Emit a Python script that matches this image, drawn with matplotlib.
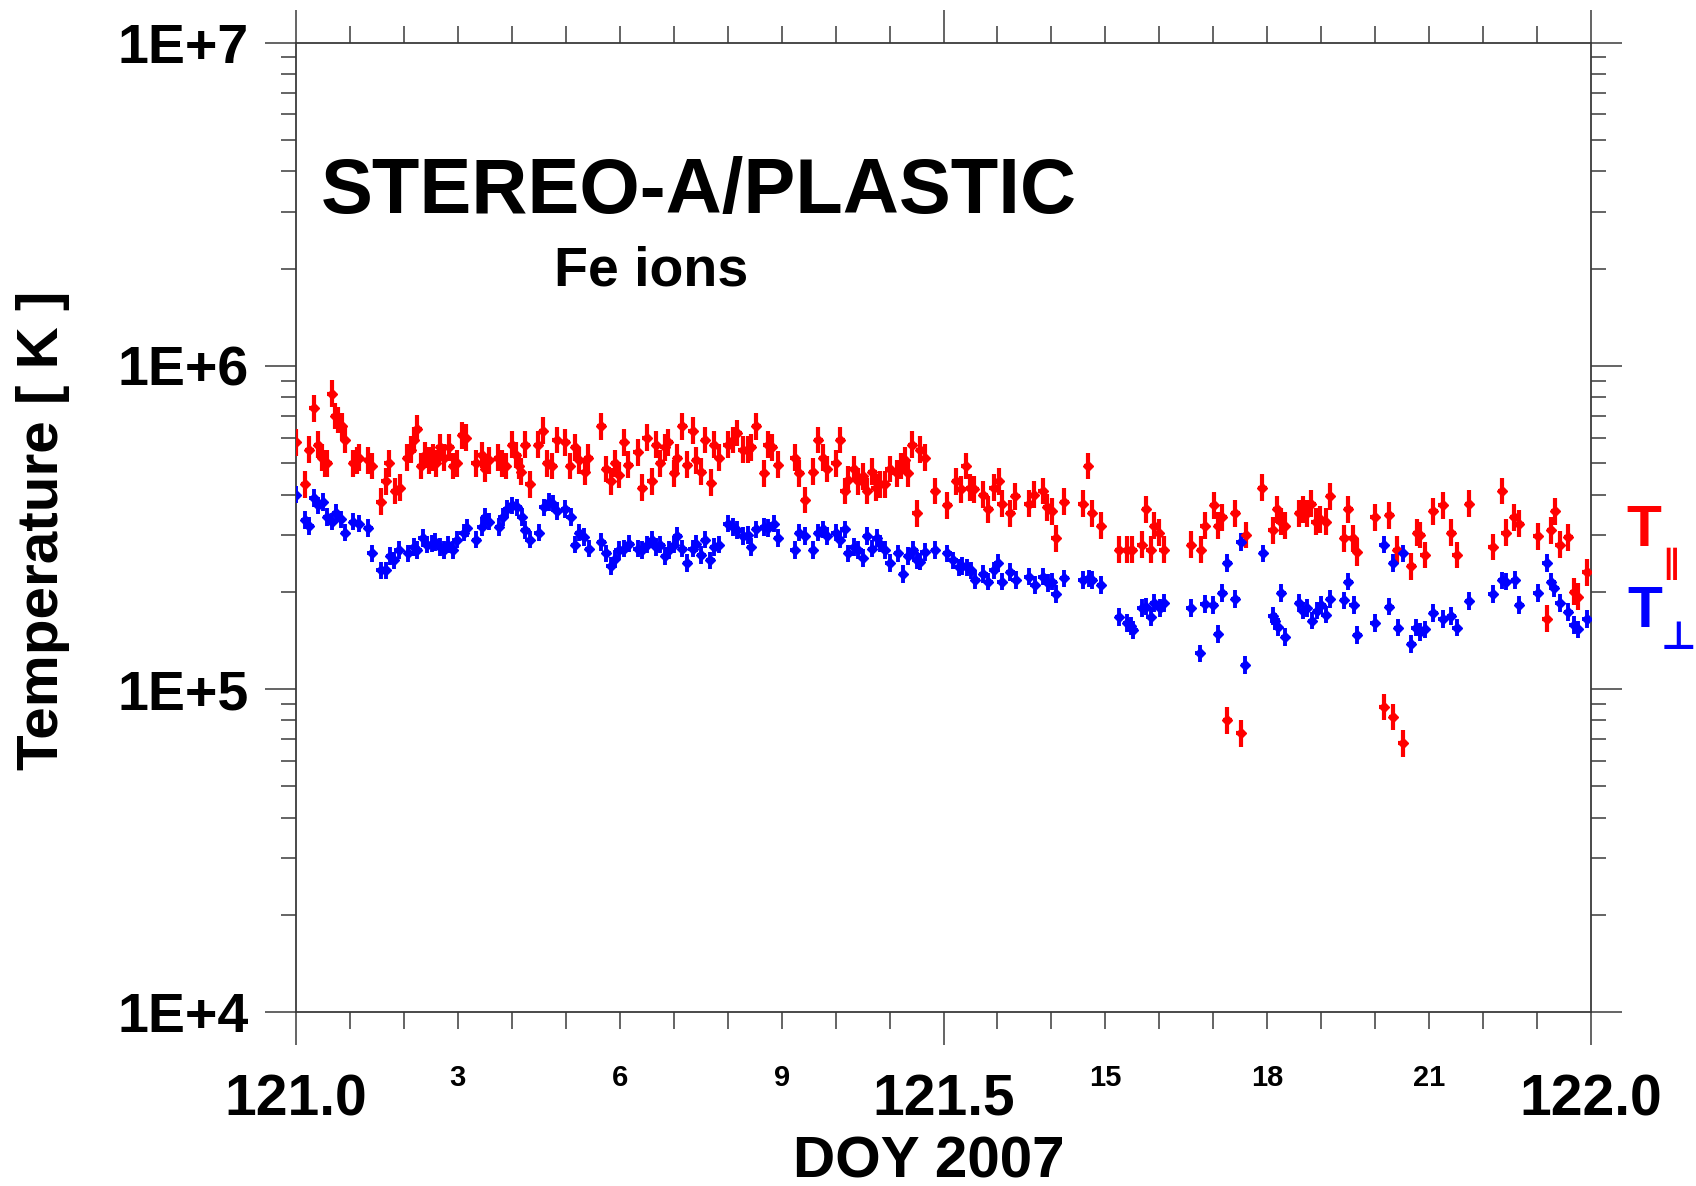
import matplotlib
matplotlib.use("Agg")
import matplotlib.pyplot as plt
from matplotlib.ticker import FixedLocator, FuncFormatter, LogLocator, NullFormatter
import numpy as np

plt.rcParams["font.family"] = ["Liberation Sans", "DejaVu Sans"]
plt.rcParams["font.weight"] = "bold"

# Fe ion temperatures, DOY 121 2007 (hours of day, units of 1E+5 K)
par_hours = [0.00, 0.17, 0.25, 0.33, 0.41, 0.48, 0.54, 0.58, 0.66, 0.72, 0.78, 0.85, 0.91,
             1.06, 1.13, 1.17, 1.34, 1.40, 1.57, 1.66, 1.72, 1.84, 1.92, 2.06, 2.13, 2.19,
             2.25, 2.32, 2.39, 2.47, 2.54, 2.60, 2.67, 2.74, 2.84, 2.91, 2.98, 3.08, 3.15,
             3.33, 3.44, 3.50, 3.58, 3.75, 3.82, 3.89, 4.01, 4.08, 4.13, 4.17, 4.25, 4.33,
             4.49, 4.58, 4.66, 4.75, 4.83, 4.99, 5.08, 5.17, 5.25, 5.35, 5.42, 5.66, 5.75,
             5.83, 5.91, 5.98, 6.08, 6.16, 6.33, 6.42, 6.50, 6.59, 6.67, 6.75, 6.83, 6.90,
             7.01, 7.07, 7.16, 7.25, 7.35, 7.41, 7.51, 7.58, 7.69, 7.75, 7.84, 8.00, 8.09,
             8.18, 8.28, 8.37, 8.44, 8.53, 8.67, 8.74, 8.83, 8.93, 9.24, 9.33, 9.43, 9.58,
             9.68, 9.77, 9.84, 10.00, 10.09, 10.17, 10.23, 10.34, 10.42, 10.51, 10.58, 10.68,
             10.74, 10.83, 10.91, 11.00, 11.13, 11.22, 11.28, 11.34, 11.42, 11.50, 11.57,
             11.65, 11.84, 12.07, 12.24, 12.33, 12.41, 12.49, 12.57, 12.74, 12.83, 12.93,
             13.02, 13.08, 13.24, 13.33, 13.58, 13.67, 13.84, 13.92, 14.01, 14.08, 14.24,
             14.58, 14.68, 14.75, 14.92, 15.25, 15.41, 15.50, 15.67, 15.75, 15.84, 15.91,
             15.99, 16.08, 16.59, 16.77, 16.84, 17.01, 17.09, 17.17, 17.26, 17.41, 17.51,
             17.60, 17.91, 18.10, 18.18, 18.25, 18.32, 18.59, 18.67, 18.74, 18.82, 18.90,
             18.98, 19.08, 19.16, 19.42, 19.50, 19.58, 19.66, 19.99, 20.16, 20.26, 20.33,
             20.41, 20.51, 20.67, 20.78, 20.84, 20.92, 21.08, 21.25, 21.41, 21.51, 21.74,
             22.18, 22.35, 22.42, 22.58, 22.67, 23.01, 23.18, 23.26, 23.33, 23.42, 23.58,
             23.69, 23.76, 23.92]
par_temp = [5.8, 4.3, 5.5, 7.4, 5.7, 5.2, 5.0, 5.0, 8.2, 7.0, 6.8, 6.5, 5.9,
            5.0, 5.1, 5.2, 5.1, 4.9, 3.8, 4.4, 5.0, 4.1, 4.2, 5.2, 5.5, 5.9,
            6.4, 4.9, 5.3, 5.1, 5.2, 5.0, 5.6, 5.2, 5.6, 4.9, 5.0, 6.1, 6.0,
            5.0, 5.3, 4.8, 5.1, 5.2, 5.0, 4.9, 5.7, 5.3, 4.9, 4.7, 5.7, 4.3,
            5.7, 6.3, 5.0, 4.9, 5.9, 5.8, 4.9, 5.6, 5.1, 4.7, 5.2, 6.5, 4.8,
            4.4, 5.0, 4.6, 5.8, 4.95, 5.4, 4.2, 6.0, 4.4, 5.7, 5.0, 5.6, 5.8,
            4.65, 5.2, 6.5, 4.95, 6.3, 5.1, 4.7, 5.9, 4.35, 5.7, 5.2, 5.7, 5.9,
            6.2, 5.5, 5.5, 5.6, 6.5, 4.65, 5.7, 5.6, 4.95, 5.2, 4.65, 3.85, 4.7,
            5.9, 5.2, 4.8, 5.0, 5.9, 4.1, 4.45, 4.8, 4.4, 4.55, 4.1, 4.7,
            4.2, 4.3, 4.3, 4.8, 4.65, 4.9, 5.1, 4.65, 5.7, 3.5, 5.5,
            5.2, 4.1, 3.7, 4.4, 4.15, 4.9, 4.2, 4.15, 4.0, 3.6, 4.2,
            4.4, 3.75, 3.5, 3.95, 3.75, 4.0, 4.1, 3.65, 3.55, 2.93, 3.8,
            3.75, 4.9, 3.5, 3.2, 2.7, 2.7, 2.7, 2.8, 3.6, 2.7, 3.2,
            3.05, 2.7, 2.8, 2.7, 3.2, 3.7, 3.2, 3.4, 0.80, 3.5, 0.73,
            3.0, 4.2, 3.1, 3.6, 3.3, 3.2, 3.5, 3.6, 3.5, 3.75, 3.3,
            3.35, 3.3, 3.95, 2.93, 3.6, 2.93, 2.65, 3.4, 0.88, 3.45, 0.82,
            2.7, 0.68, 2.4, 3.05, 3.0, 2.6, 3.55, 3.7, 3.05, 2.6, 3.75,
            2.75, 4.1, 3.05, 3.4, 3.25, 2.97, 1.65, 3.1, 3.55, 2.8, 2.95,
            2.0, 1.93, 2.3]

perp_hours = [0.00, 0.17, 0.25, 0.33, 0.41, 0.50, 0.58, 0.66, 0.75, 0.83, 0.91, 1.06, 1.16,
              1.34, 1.40, 1.57, 1.67, 1.74, 1.82, 1.90, 2.08, 2.18, 2.25, 2.35, 2.42, 2.52,
              2.58, 2.67, 2.74, 2.82, 2.91, 2.98, 3.11, 3.17, 3.34, 3.44, 3.51, 3.58, 3.76,
              3.83, 3.91, 4.01, 4.10, 4.18, 4.25, 4.33, 4.50, 4.59, 4.69, 4.76, 4.84, 4.99,
              5.09, 5.17, 5.25, 5.34, 5.43, 5.66, 5.75, 5.83, 5.91, 5.98, 6.08, 6.18, 6.33,
              6.42, 6.51, 6.59, 6.67, 6.75, 6.84, 6.92, 7.00, 7.07, 7.16, 7.25, 7.35, 7.41,
              7.51, 7.58, 7.68, 7.75, 7.84, 8.00, 8.09, 8.18, 8.28, 8.37, 8.43, 8.53, 8.67,
              8.75, 8.85, 8.93, 9.24, 9.33, 9.43, 9.58, 9.68, 9.77, 9.84, 10.00, 10.08, 10.17,
              10.23, 10.34, 10.42, 10.51, 10.58, 10.68, 10.76, 10.83, 10.91, 11.00, 11.16,
              11.25, 11.34, 11.44, 11.50, 11.57, 11.65, 11.84, 12.07, 12.18, 12.28, 12.35,
              12.43, 12.51, 12.59, 12.74, 12.83, 12.93, 13.01, 13.08, 13.24, 13.34, 13.58,
              13.69, 13.84, 13.93, 14.02, 14.08, 14.24, 14.58, 14.69, 14.76, 14.92, 15.25,
              15.41, 15.47, 15.52, 15.67, 15.75, 15.84, 15.91, 16.01, 16.08, 16.58, 16.75,
              16.84, 17.00, 17.09, 17.17, 17.26, 17.41, 17.51, 17.59, 17.92, 18.10, 18.14,
              18.19, 18.26, 18.33, 18.59, 18.67, 18.74, 18.83, 18.93, 19.00, 19.08, 19.16,
              19.42, 19.50, 19.60, 19.67, 19.99, 20.16, 20.26, 20.33, 20.42, 20.51, 20.67,
              20.75, 20.84, 20.92, 21.08, 21.25, 21.41, 21.51, 21.74, 22.18, 22.35, 22.42,
              22.59, 22.67, 23.01, 23.18, 23.26, 23.32, 23.42, 23.58, 23.68, 23.76, 23.92]
perp_temp = [4.0, 3.33, 3.2, 3.9, 3.7, 3.8, 3.4, 3.3, 3.5, 3.35, 3.05, 3.3, 3.25,
             3.15, 2.63, 2.33, 2.33, 2.58, 2.5, 2.7, 2.63, 2.75, 2.7, 2.93, 2.8, 2.82,
             2.85, 2.75, 2.7, 2.8, 2.7, 2.9, 3.05, 3.15, 2.9, 3.18, 3.4, 3.3, 3.18,
             3.4, 3.6, 3.7, 3.65, 3.4, 3.1, 2.9, 3.05, 3.65, 3.8, 3.75, 3.55, 3.6,
             3.4, 2.8, 3.05, 2.95, 2.72, 2.85, 2.63, 2.4, 2.53, 2.7, 2.72, 2.82, 2.72,
             2.7, 2.8, 2.9, 2.75, 2.8, 2.58, 2.7, 2.8, 2.97, 2.72, 2.45, 2.72, 2.82,
             2.6, 2.9, 2.5, 2.75, 2.8, 3.25, 3.18, 3.1, 2.97, 3.0, 2.75, 3.12, 3.18,
             3.15, 3.25, 2.93, 2.7, 3.05, 2.97, 2.7, 3.05, 3.12, 2.97, 3.05, 2.9, 3.12,
             2.63, 2.75, 2.7, 2.55, 2.97, 2.72, 2.93, 2.82, 2.7, 2.45, 2.63,
             2.27, 2.58, 2.7, 2.5, 2.48, 2.65, 2.7, 2.63, 2.5, 2.38, 2.4,
             2.38, 2.33, 2.18, 2.27, 2.15, 2.33, 2.45, 2.15, 2.3, 2.18, 2.23,
             2.1, 2.23, 2.13, 2.15, 1.97, 2.2, 2.18, 2.2, 2.18, 2.1, 1.67,
             1.6, 1.57, 1.52, 1.78, 1.8, 1.67, 1.85, 1.78, 1.85, 1.78, 1.29,
             1.83, 1.82, 1.48, 1.98, 2.45, 1.9, 2.85, 1.19, 2.63, 1.68, 1.62,
             1.56, 1.98, 1.45, 1.85, 1.75, 1.78, 1.63, 1.75, 1.82, 1.7, 1.9,
             1.88, 2.15, 1.82, 1.47, 1.6, 2.8, 1.8, 2.45, 1.55, 2.63, 1.38,
             1.55, 1.5, 1.53, 1.72, 1.65, 1.68, 1.55, 1.87, 1.97, 2.17, 2.15,
             2.18, 1.82, 1.98, 2.45, 2.15, 2.05, 1.85, 1.73, 1.58, 1.53, 1.65]

doy_start = 121.0
major_doy = [121.0, 121.5, 122.0]
hour_labels = [3, 6, 9, 15, 18, 21]
y_ticks = [1e4, 1e5, 1e6, 1e7]
y_tick_labels = ["1E+4", "1E+5", "1E+6", "1E+7"]

W, H = 1696, 1186
fig = plt.figure(figsize=(W / 100, H / 100), dpi=100)
ax = fig.add_axes([296 / W, 1 - 1012.3 / H, 1295 / W, 969.6 / H])

def draw_series(hours, temp, color, frac, lw, ms):
    x = doy_start + np.asarray(hours) / 24.0
    t = np.asarray(temp) * 1e5
    yerr = np.vstack([t - t / frac, t * frac - t])
    ax.errorbar(x, t, yerr=yerr, xerr=0.08 / 24.0, fmt="D", ms=ms,
                color=color, mec=color, mfc=color, ecolor=color,
                elinewidth=lw, capsize=0, zorder=3)

draw_series(par_hours, par_temp, "#ff0000", 1.10, 3.0, 5.5)
draw_series(perp_hours, perp_temp, "#0000ff", 1.065, 2.8, 5.5)

ax.set_yscale("log")
ax.set_ylim(1e4, 1e7)
ax.set_xlim(121.0, 122.0)

ax.yaxis.set_major_locator(FixedLocator(y_ticks))
ax.yaxis.set_major_formatter(FuncFormatter(lambda v, p: y_tick_labels[y_ticks.index(v)] if v in y_ticks else ""))
ax.yaxis.set_minor_locator(LogLocator(base=10, subs=np.arange(2, 10)))
ax.yaxis.set_minor_formatter(NullFormatter())

ax.xaxis.set_major_locator(FixedLocator(major_doy))
ax.xaxis.set_major_formatter(FuncFormatter(lambda v, p: f"{v:.1f}"))
ax.xaxis.set_minor_locator(FixedLocator(doy_start + np.arange(0, 25) / 24.0))

def hour_fmt(v, p):
    h = int(round((v - doy_start) * 24))
    return str(h) if h in hour_labels else ""

ax.xaxis.set_minor_formatter(FuncFormatter(hour_fmt))

edge = "#3a3a3a"
for s in ax.spines.values():
    s.set_color(edge)
    s.set_linewidth(1.3)

ax.tick_params(axis="y", which="major", direction="out", length=22, width=1.1,
               color=edge, left=True, right=True, labelsize=40, pad=12)
ax.tick_params(axis="y", which="minor", direction="out", length=11, width=1.1,
               color=edge, left=True, right=True)
ax.tick_params(axis="x", which="major", direction="out", length=24, width=1.1,
               color=edge, bottom=True, top=True, labelsize=41, pad=20)
ax.tick_params(axis="x", which="minor", direction="out", length=12, width=1.1,
               color=edge, bottom=True, top=True, labelsize=21, pad=25)
for lab in ax.get_xticklabels() + ax.get_yticklabels() + ax.get_xminorticklabels():
    lab.set_fontweight("bold")

fig.text(321 / W, 1 - 192 / H, "STEREO-A/PLASTIC", ha="left", va="center",
         fontsize=56, fontweight="bold")
fig.text(651 / W, 1 - 271 / H, "Fe ions", ha="center", va="center",
         fontsize=40, fontweight="bold")
fig.text(43 / W, 1 - 530 / H, "Temperature [ K ]", rotation=90, ha="center",
         va="center", fontsize=42, fontweight="bold")
fig.text(929 / W, 1 - 1162 / H, "DOY 2007", ha="center", va="center",
         fontsize=42, fontweight="bold")

# component labels beside the right axis
fig.text(1644 / W, 1 - 531 / H, "T", color="#ff0000", ha="center", va="center",
         fontsize=41, fontweight="bold")
fig.text(1671 / W, 1 - 563 / H, "\u2225", color="#ff0000", ha="center", va="center",
         fontsize=24, fontweight="bold", family="DejaVu Sans")
fig.text(1645 / W, 1 - 612 / H, "T", color="#0000ff", ha="center", va="center",
         fontsize=41, fontweight="bold")
fig.text(1678 / W, 1 - 638 / H, "\u22a5", color="#0000ff", ha="center", va="center",
         fontsize=28, family="DejaVu Sans")

fig.savefig("out.png", dpi=100)
